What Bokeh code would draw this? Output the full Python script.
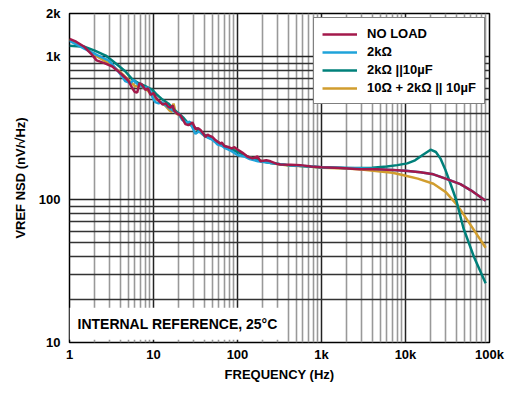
from bokeh.plotting import figure
from bokeh.models import (FixedTicker, Legend, LegendItem, Label)
from bokeh.embed import file_html
from bokeh.resources import INLINE

# ---------------- data ----------------
freq_noload = [1, 1.2, 1.5, 1.8, 2.1, 2.6, 3.2, 3.7, 4.3, 5.0, 5.6, 6.0, 6.4, 6.8, 7.2,
               8.0, 8.6, 9.2, 10, 10.6, 11.2, 12.0, 12.8, 14, 15.0, 15.9, 17.0, 17.5,
               19, 20.9, 22.5, 24, 26, 28, 29, 31.6, 34, 36.3, 39, 41.6, 44, 46, 50,
               54, 58, 62, 65, 70, 76, 85, 92, 100, 115, 131, 151, 173, 188, 220, 247,
               290, 325, 430, 562, 750, 1000, 1700, 2900, 4600, 7000, 10000, 15000,
               21500, 30000, 45000, 60000, 90000]
nsd_noload = [1330, 1270, 1170, 1050, 940, 900, 855, 800, 740, 680, 600, 565, 560, 650,
              640, 585, 600, 540, 555, 520, 500, 480, 462, 470, 445, 440, 455, 420,
              400, 388, 360, 337, 331, 340, 347, 311, 315, 306, 290, 274, 285, 280,
              274, 262, 254, 246, 250, 236, 234, 228, 232, 224, 212, 200, 194, 200,
              185, 188, 185, 178, 176, 175, 174, 170, 168, 166, 163, 163, 161, 159,
              155, 150, 140, 128, 116, 98]

freq_2k = [1, 1.5, 2.2, 2.9, 3.3, 3.7, 4.2, 4.6, 5.3, 5.8, 6.6, 7.5, 8.5, 9.2, 9.7,
           10.5, 11.5, 12.5, 14, 16, 18, 20, 22, 25, 27, 29, 31.6, 35, 40, 45, 50,
           55, 58, 65, 70, 76, 85, 100, 120, 140, 175, 250, 400, 700, 1000, 2000,
           4000, 7000, 10000, 15000, 21500, 30000, 45000, 60000, 90000]
nsd_2k = [1290, 1134, 1016, 940, 870, 802, 730, 674, 653, 685, 633, 610, 604, 570, 520,
          480, 470, 480, 455, 430, 410, 395, 360, 345, 350, 320, 288, 300, 280, 270,
          262, 250, 242, 238, 230, 225, 218, 205, 200, 192, 185, 180, 174, 171, 168,
          166, 164, 161, 159, 155, 150, 140, 128, 116, 98]

freq_2k10u = [1, 1.5, 2.0, 2.7, 3.5, 4.6, 5.5, 6.6, 8, 9.7, 11, 12.8, 15, 18, 20, 23,
              26, 30, 35, 40, 50, 60, 75, 100, 130, 175, 250, 400, 700, 1000, 2000,
              4000, 6000, 8000, 10500, 13000, 16000, 19900, 23000, 26000, 30000,
              34000, 40000, 49000, 65000, 90000]
nsd_2k10u = [1190, 1170, 1100, 1016, 900, 789, 700, 653, 620, 585, 540, 500, 470, 420,
             400, 370, 340, 325, 300, 285, 265, 250, 232, 215, 200, 188, 180, 174, 170,
             168, 166, 167, 170, 174, 179, 188, 205, 223, 215, 194, 160, 131, 100, 63,
             40, 26]

freq_10r = [1, 1.5, 2.2, 3, 4, 5, 6, 7, 8, 9, 10, 11, 12.5, 14, 15.5, 16.5, 17.3, 18.5,
            20, 23, 26, 30, 35, 40, 50, 60, 75, 100, 130, 175, 250, 400, 700, 1000,
            2000, 3000, 5000, 7000, 9500, 14000, 21500, 30000, 41600, 60000, 90000]
nsd_10r = [1320, 1160, 990, 890, 780, 690, 620, 620, 600, 560, 530, 500, 475, 450, 420,
           410, 469, 400, 390, 360, 340, 320, 300, 280, 265, 250, 232, 218, 200, 188,
           180, 173, 170, 167, 165, 162, 157, 154, 148, 140, 129, 113, 91, 66, 46]

series_labels = ["NO LOAD", "2kΩ", "2kΩ ||10µF", "10Ω + 2kΩ || 10µF"]
series_colors = ["#A3194B", "#1FA3DA", "#00807A", "#D19D2E"]

x_major = [1, 10, 100, 1000, 10000, 100000]
x_major_labels = ["1", "10", "100", "1k", "10k", "100k"]
y_major = [10, 100, 1000, 2000]
y_major_labels = ["10", "100", "1k", "2k"]

x_minor = [m * d for d in [1, 10, 100, 1000, 10000] for m in range(2, 10)]
y_minor = [m * d for d in [10, 100] for m in range(2, 10)]

x_title = "FREQUENCY (Hz)"
y_title = "VREF NSD (nV/√Hz)"
note_text = "INTERNAL REFERENCE, 25°C"

FONT = "Liberation Sans"

p = figure(width=508, height=384, x_axis_type="log", y_axis_type="log",
           x_range=(1, 100000), y_range=(10, 2000),
           output_backend="svg", toolbar_location=None,
           min_border_left=69, min_border_right=19, min_border_top=13,
           min_border_bottom=34)

p.outline_line_color = "black"
p.outline_line_width = 1.5
p.background_fill_color = "white"
p.border_fill_color = "white"

p.xaxis.ticker = FixedTicker(ticks=x_major, minor_ticks=x_minor)
p.yaxis.ticker = FixedTicker(ticks=y_major, minor_ticks=y_minor)
p.xaxis.major_label_overrides = {t: l for t, l in zip(x_major, x_major_labels)}
p.yaxis.major_label_overrides = {t: l for t, l in zip(y_major, y_major_labels)}

for ax in (p.xaxis, p.yaxis):
    ax.axis_line_color = None
    ax.major_tick_line_color = None
    ax.minor_tick_line_color = None
    ax.major_tick_out = 0
    ax.major_tick_in = 0
    ax.minor_tick_out = 0
    ax.minor_tick_in = 0
    ax.major_label_text_font = FONT
    ax.major_label_text_font_style = "bold"
    ax.major_label_text_font_size = "13px"
    ax.major_label_text_color = "black"
    ax.major_label_text_line_height = 1.0
    ax.axis_label_text_font = FONT
    ax.axis_label_text_font_style = "bold"
    ax.axis_label_text_font_size = "13px"
    ax.axis_label_text_color = "black"
    ax.axis_label_text_line_height = 1.0

p.xaxis.major_label_standoff = 4
p.yaxis.major_label_standoff = 9
p.xaxis.axis_label = x_title
p.xaxis.axis_label_standoff = 2
p.yaxis.axis_label = y_title
p.yaxis.axis_label_standoff = 8

p.xgrid.grid_line_color = "#222222"
p.xgrid.grid_line_width = 1.5
p.xgrid.minor_grid_line_color = "#999999"
p.xgrid.minor_grid_line_width = 1.6
p.ygrid.grid_line_color = "#222222"
p.ygrid.grid_line_width = 1.3
p.ygrid.minor_grid_line_color = "#333333"
p.ygrid.minor_grid_line_width = 1.3

r_10r = p.line(freq_10r, nsd_10r, line_color=series_colors[3], line_width=2.5)
r_2k10u = p.line(freq_2k10u, nsd_2k10u, line_color=series_colors[2], line_width=2.5)
r_2k = p.line(freq_2k, nsd_2k, line_color=series_colors[1], line_width=2.5)
r_noload = p.line(freq_noload, nsd_noload, line_color=series_colors[0], line_width=2.5)

renderers = [r_noload, r_2k, r_2k10u, r_10r]
legend = Legend(items=[LegendItem(label=l, renderers=[r]) for l, r in zip(series_labels, renderers)],
                location="top_right", margin=4, padding=8, spacing=3,
                label_height=14, glyph_height=14, glyph_width=35, label_standoff=10,
                label_text_font=FONT, label_text_font_style="bold",
                label_text_font_size="13px", label_text_color="black",
                border_line_color="black", border_line_width=1.5,
                background_fill_color="white", background_fill_alpha=1.0)
p.add_layout(legend)

note = Label(x=1, y=13.5, x_offset=0, text=note_text,
             text_font=FONT, text_font_style="bold", text_font_size="14px",
             text_color="black", text_baseline="middle", text_align="left",
             background_fill_color="white", background_fill_alpha=1.0,
             padding=8)
p.add_layout(note)

open("out.html", "w").write(file_html(p, INLINE))
